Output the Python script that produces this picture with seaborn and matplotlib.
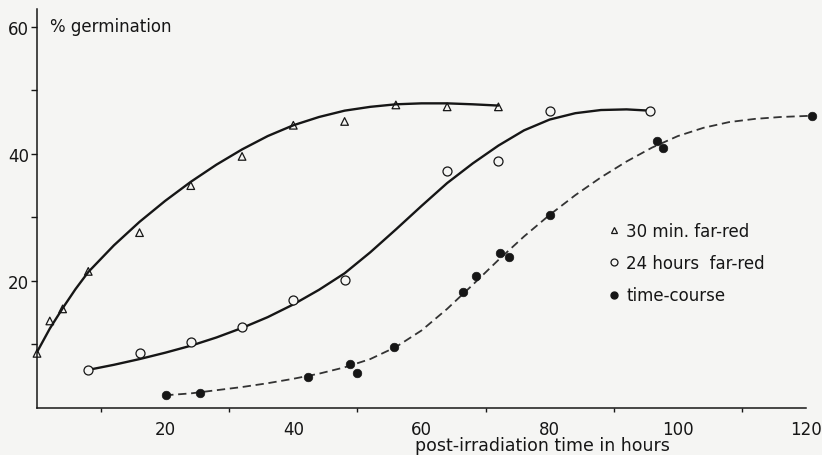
import matplotlib
matplotlib.use("Agg")
import matplotlib.pyplot as plt
from matplotlib.lines import Line2D
import seaborn as sns
import numpy as np

# ---- data ----
tri_x = [0, 2, 4, 8, 16, 24, 32, 40, 48, 56, 64, 72]
tri_y = [8.6, 13.7, 15.6, 21.5, 27.6, 35.0, 39.6, 44.5, 45.1, 47.7, 47.4, 47.4]

circ_x = [8, 16, 24, 32, 40, 48, 64, 72, 80, 95.6]
circ_y = [6.0, 8.6, 10.4, 12.8, 17.0, 20.2, 37.3, 38.8, 46.7, 46.8]

dot_x = [20.1, 25.5, 42.3, 48.9, 49.9, 55.7, 66.5, 68.5, 72.2, 73.6, 80, 96.8, 97.7, 120.9]
dot_y = [2.0, 2.4, 4.9, 7.0, 5.5, 9.6, 18.2, 20.7, 24.4, 23.8, 30.4, 42.1, 40.9, 46.0]

# fitted curves
curveA_x = [0, 2, 4, 6, 8, 12, 16, 20, 24, 28, 32, 36, 40, 44, 48, 52, 56, 60, 64, 68, 72]
curveA_y = [8.8, 12.5, 15.7, 18.7, 21.4, 25.6, 29.3, 32.6, 35.6, 38.3, 40.7, 42.8, 44.5,
            45.8, 46.8, 47.4, 47.8, 47.95, 47.95, 47.8, 47.6]

curveB_x = [8, 12, 16, 20, 24, 28, 32, 36, 40, 44, 48, 52, 56, 60, 64, 68, 72, 76,
            80, 84, 88, 92, 95.6]
curveB_y = [6.0, 6.8, 7.7, 8.7, 9.8, 11.1, 12.6, 14.3, 16.3, 18.6, 21.2, 24.5, 28.1,
            31.8, 35.4, 38.5, 41.3, 43.7, 45.4, 46.4, 46.9, 47.0, 46.8]

curveC_x = [20, 24, 28, 32, 36, 40, 44, 48, 52, 56, 60, 64, 68, 72, 76, 80, 84, 88,
            92, 96, 100, 104, 108, 112, 116, 120.9]
curveC_y = [2.0, 2.3, 2.8, 3.3, 3.9, 4.6, 5.4, 6.4, 7.7, 9.6, 12.2, 15.6, 19.4, 23.3,
            27.0, 30.4, 33.5, 36.3, 38.8, 41.0, 42.8, 44.1, 45.0, 45.5, 45.8, 46.0]

xticks_major = [20, 40, 60, 80, 100, 120]
xticks_minor = [10, 30, 50, 70, 90, 110]
yticks_major = [20, 40, 60]
yticks_minor = [10, 30, 50]

legend_labels = ["30 min. far-red", "24 hours  far-red", "time-course"]
ylabel_text = "% germination"
xlabel_text = "post-irradiation time in hours"

# ---- figure ----
sns.set_theme(style="white")
plt.rcParams["font.family"] = ["DejaVu Sans"]
bg = "#f5f5f3"
ink = "#161616"

fig = plt.figure(figsize=(8.22, 4.56), dpi=100, facecolor=bg)
ax = fig.add_axes([37 / 822, 47 / 456, 769 / 822, 399 / 456])
ax.set_facecolor(bg)

sns.lineplot(x=curveA_x, y=curveA_y, ax=ax, color=ink, lw=1.7, sort=False,
             estimator=None, solid_capstyle="round", solid_joinstyle="round")
sns.lineplot(x=curveB_x, y=curveB_y, ax=ax, color=ink, lw=1.7, sort=False,
             estimator=None, solid_capstyle="round", solid_joinstyle="round")
sns.lineplot(x=curveC_x, y=curveC_y, ax=ax, color="#333333", lw=1.3, sort=False,
             estimator=None)
ax.lines[-1].set_dashes((4.6, 2.6))
ax.lines[-1].set_clip_on(False)

sns.scatterplot(x=tri_x, y=tri_y, ax=ax, marker="^", s=30, facecolor="none",
                edgecolor=ink, linewidth=0.9, zorder=5, clip_on=False)
sns.scatterplot(x=circ_x, y=circ_y, ax=ax, marker="o", s=42, facecolor=bg,
                edgecolor=ink, linewidth=0.9, zorder=5, clip_on=False)
sns.scatterplot(x=dot_x, y=dot_y, ax=ax, marker="o", s=38, color=ink,
                edgecolor=ink, linewidth=0.5, zorder=5, clip_on=False)

ax.set_xlim(0, 120)
ax.set_ylim(0, 62.8)

sns.despine(ax=ax)
for side in ("left", "bottom"):
    ax.spines[side].set_color(ink)
    ax.spines[side].set_linewidth(1.1)

ax.set_xticks(xticks_major)
ax.set_xticks(xticks_minor, minor=True)
ax.set_yticks(yticks_major)
ax.set_yticks(yticks_minor, minor=True)
ax.tick_params(axis="x", which="major", length=0, pad=8.5, labelsize=12, labelcolor=ink)
ax.tick_params(axis="x", which="minor", length=3.2, width=1.0, direction="out",
               color=ink, bottom=True)
ax.tick_params(axis="y", which="major", length=4.5, width=1.0, direction="out",
               pad=1.2, labelsize=12, labelcolor=ink, color=ink, left=True)
ax.tick_params(axis="y", which="minor", length=4.5, width=1.0, direction="out",
               color=ink, left=True)
ax.grid(False)

ax.text(0.017, 0.945, ylabel_text, transform=ax.transAxes, fontsize=12,
        color=ink, va="baseline", ha="left")
ax.set_xlabel(xlabel_text, fontsize=12.5, color=ink)
ax.xaxis.set_label_coords(0.657, -0.093)
ax.xaxis.label.set_va("center")
ax.set_ylabel("")

handles = [
    Line2D([], [], ls="none", marker="^", ms=4.2, mfc="none", mec=ink, mew=0.9),
    Line2D([], [], ls="none", marker="o", ms=5.0, mfc="none", mec=ink, mew=0.9),
    Line2D([], [], ls="none", marker="o", ms=5.0, mfc=ink, mec=ink),
]
leg = ax.legend(handles, legend_labels, loc="upper left",
                bbox_to_anchor=(607 / 822, (456 - 223) / 456),
                bbox_transform=fig.transFigure, frameon=False, fontsize=12,
                handlelength=0.8, handletextpad=0.35, labelspacing=0.85,
                borderpad=0, borderaxespad=0)
for t in leg.get_texts():
    t.set_color(ink)

fig.savefig("out.png", dpi=100, facecolor=bg)
